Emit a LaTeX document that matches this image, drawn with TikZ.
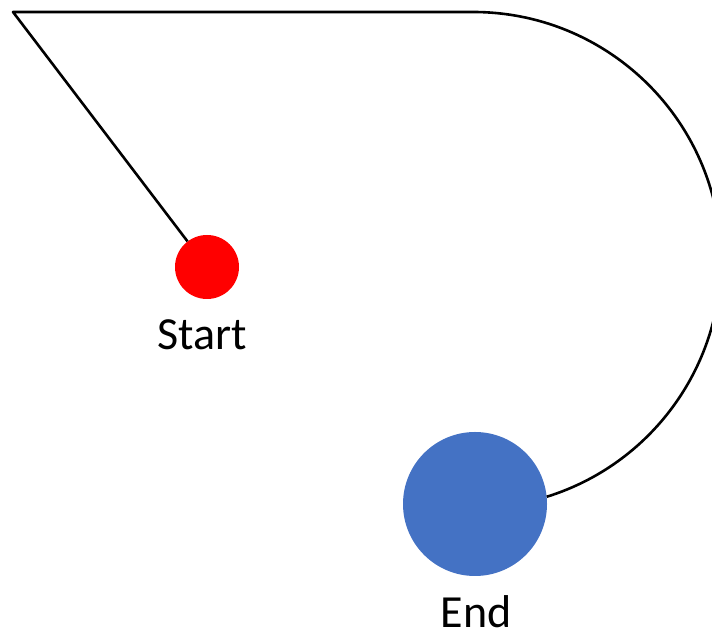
\documentclass[tikz,border=0pt]{standalone}
\usepackage{fontspec}
\setmainfont{Carlito}
\definecolor{endblue}{HTML}{4472C4}
\definecolor{startred}{HTML}{FF0000}
\begin{document}
\begin{tikzpicture}[x=1pt,y=1pt,
  dot/.style={circle,inner sep=0pt,draw=none},
  label text/.style={font=\fontsize{46}{52}\selectfont,anchor=base,inner sep=0pt},
  path line/.style={line width=2.6pt,black,line join=round}]
  \useasboundingbox (0,0) rectangle (712,636);
  % endpoints
  \node[dot,fill=startred,minimum size=64pt] (start) at (207,369) {};
  \node[dot,fill=endblue,minimum size=144pt] (end) at (475,132) {};
  \node[label text] (startlabel) at (202,286) {Start};
  \node[label text] (endlabel) at (476,8) {End};
  % route
  \coordinate (corner) at (13,624);
  \coordinate (top) at (473,624);
  \draw[path line] (start) -- (corner) -- (top)
    arc[start angle=90,end angle=-72.7,radius=248] coordinate (finish);
\end{tikzpicture}
\end{document}
